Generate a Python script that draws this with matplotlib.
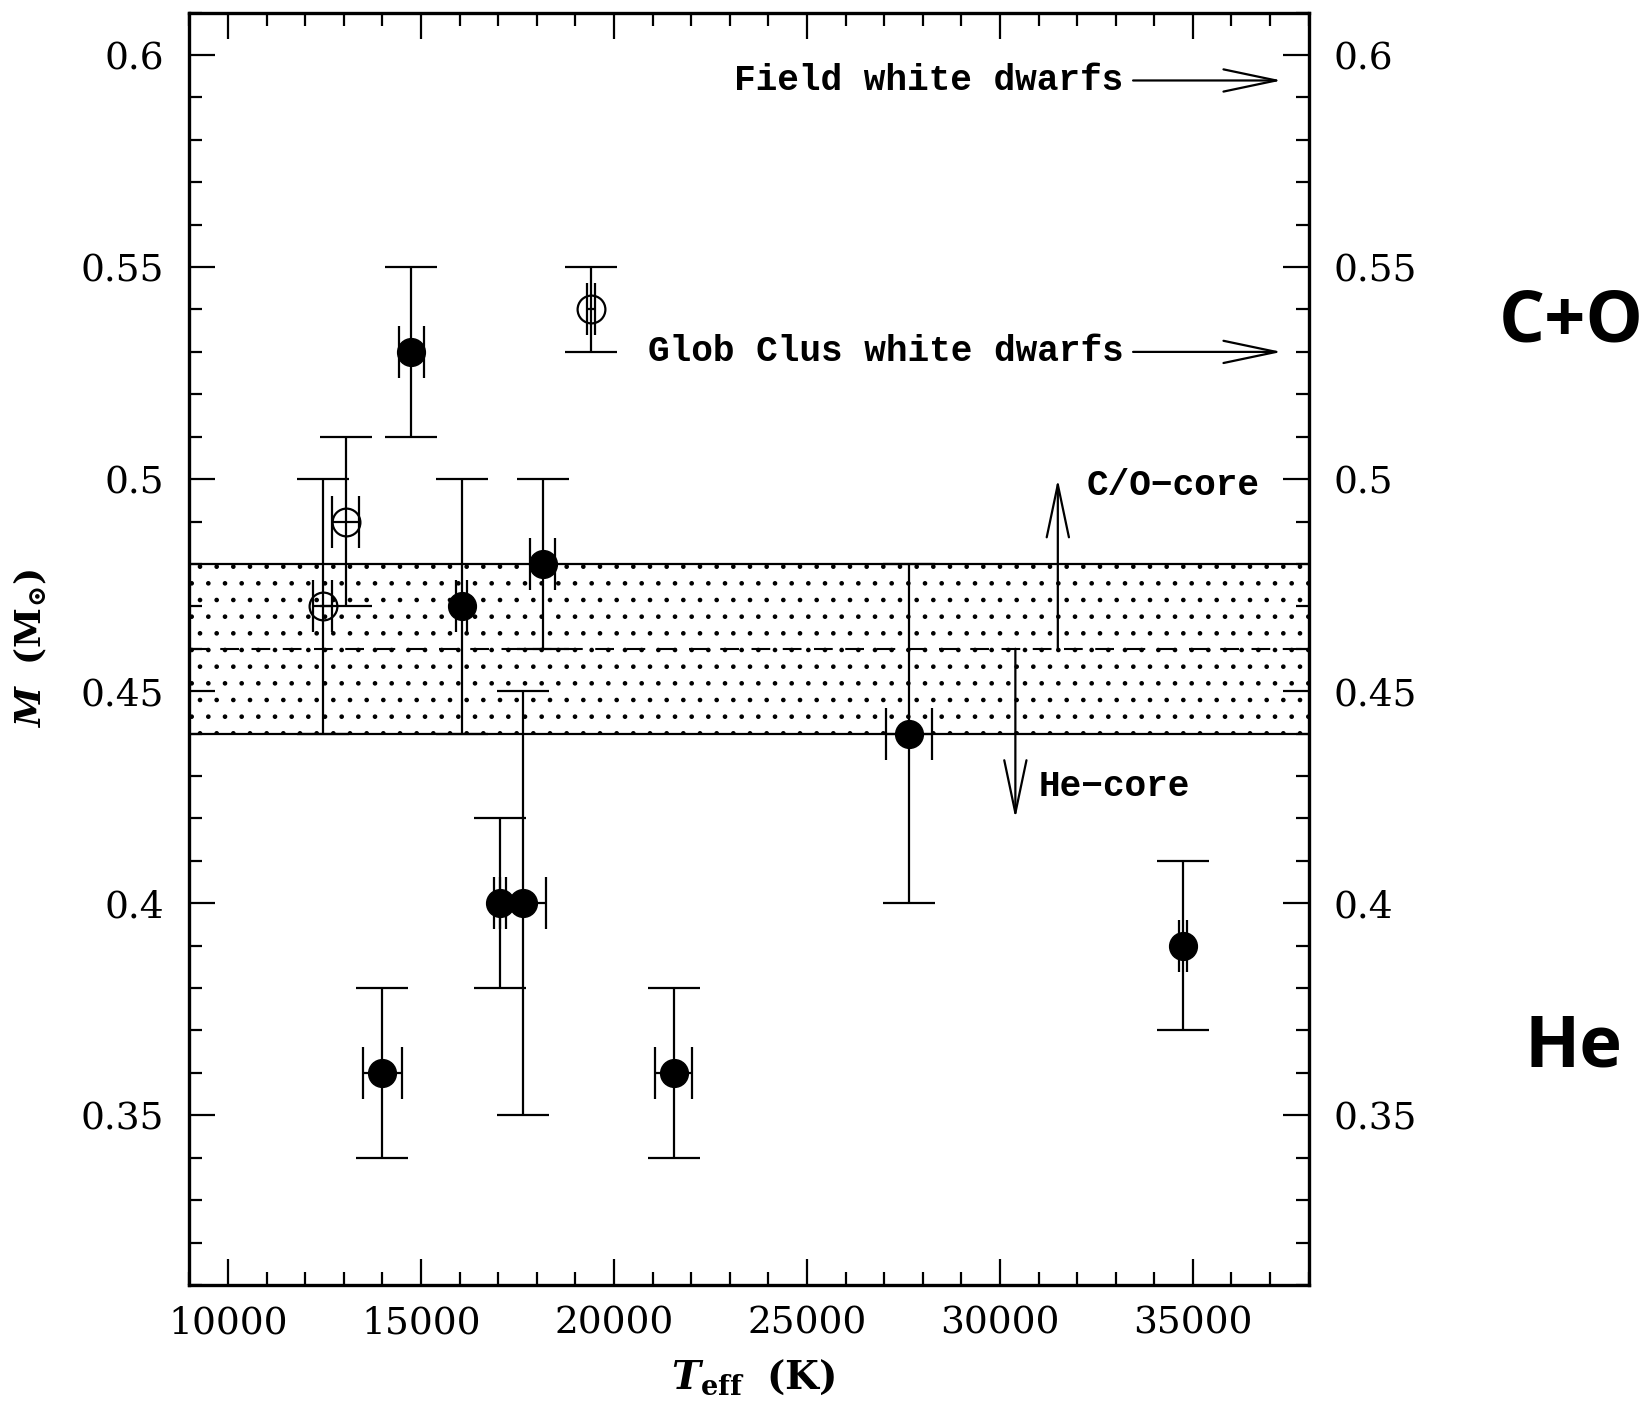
import matplotlib
matplotlib.use('Agg')
import matplotlib.pyplot as plt
from matplotlib.ticker import MultipleLocator, FormatStrFormatter

plt.rcParams['mathtext.fontset'] = 'dejavuserif'
plt.rcParams['hatch.linewidth'] = 0.9

# filled points: Teff (K), mass (Msun), errors
teff_filled = [14750, 16050, 18150, 17050, 17650, 14000, 21550, 27650, 34750]
mass_filled = [0.53, 0.47, 0.48, 0.40, 0.40, 0.36, 0.36, 0.44, 0.39]
mass_err_filled = [0.02, 0.03, 0.02, 0.02, 0.05, 0.02, 0.02, 0.04, 0.02]
teff_err_filled = [320, 150, 330, 150, 600, 500, 480, 600, 100]

# open points
teff_open = [19400, 13050, 12450]
mass_open = [0.54, 0.49, 0.47]
mass_err_open = [0.01, 0.02, 0.03]
teff_err_open = [100, 350, 250]

# transition band and reference masses
band_lo, band_mid, band_hi = 0.44, 0.46, 0.48
field_wd_mass = 0.594
globclus_wd_mass = 0.53

fig = plt.figure(figsize=(16.42, 14.02), dpi=100)
ax = fig.add_axes([0.1154, 0.0835, 0.6816, 0.9075])
ax.set_xlim(9000, 38000)
ax.set_ylim(0.31, 0.61)

# dotted band between He-core and C/O-core
ax.axhspan(band_lo, band_hi, facecolor='none', edgecolor='black', hatch='.', lw=0, zorder=1)
ax.axhline(band_lo, color='black', lw=1.6, zorder=2)
ax.axhline(band_hi, color='black', lw=1.6, zorder=2)
ax.axhline(band_mid, color='black', lw=1.5, ls=(0, (9, 6)), zorder=2)

ax.errorbar(teff_filled, mass_filled, xerr=teff_err_filled, yerr=mass_err_filled,
            fmt='o', color='black', ms=20, capsize=19, elinewidth=1.6, capthick=1.6, zorder=4)
ax.errorbar(teff_open, mass_open, xerr=teff_err_open, yerr=mass_err_open,
            fmt='o', color='black', mfc='none', mec='black', mew=1.6, ms=20,
            capsize=19, elinewidth=1.6, capthick=1.6, zorder=4)

# arrows and labels
head = dict(arrowstyle='->,head_length=3.8,head_width=0.8', lw=1.6, color='black',
            mutation_scale=10, shrinkA=0, shrinkB=0)
label_font = dict(family='Liberation Mono', weight='bold', fontsize=26)

ax.annotate('', xy=(31500, 0.50), xytext=(31500, band_mid), arrowprops=head)
ax.annotate('', xy=(30400, 0.42), xytext=(30400, band_mid), arrowprops=head)
ax.text(32250, 0.4985, 'C/O\u2212core', ha='left', va='center', **label_font)
ax.text(31000, 0.4275, 'He\u2212core', ha='left', va='center', **label_font)

ax.annotate('', xy=(37300, field_wd_mass), xytext=(33450, field_wd_mass), arrowprops=head)
ax.text(33200, field_wd_mass, 'Field white dwarfs', ha='right', va='center', **label_font)
ax.annotate('', xy=(37300, globclus_wd_mass), xytext=(33450, globclus_wd_mass), arrowprops=head)
ax.text(33200, globclus_wd_mass, 'Glob Clus white dwarfs', ha='right', va='center', **label_font)

# ticks
ax.xaxis.set_major_locator(MultipleLocator(5000))
ax.xaxis.set_minor_locator(MultipleLocator(1000))
ax.yaxis.set_major_locator(MultipleLocator(0.05))
ax.yaxis.set_minor_locator(MultipleLocator(0.01))
ax.yaxis.set_major_formatter(FormatStrFormatter('%g'))
ax.tick_params(which='both', direction='in', top=True, right=True, labelright=True, width=1.6)
ax.tick_params(which='major', length=18.7)
ax.tick_params(which='minor', length=9.4)
ax.tick_params(axis='x', which='major', pad=15)
ax.tick_params(axis='y', which='major', pad=18)
ax.tick_params(labelsize=27)
for lab in ax.get_xticklabels() + ax.get_yticklabels():
    lab.set_family('DejaVu Serif')
for spine in ax.spines.values():
    spine.set_linewidth(2.4)

ax.text(0.504, -0.073, r'$\mathbfit{T}_{\mathbf{eff}}\ \ \mathbf{(K)}$', transform=ax.transAxes,
        ha='center', va='center', fontsize=28)
ax.text(-0.142, 0.5, r'$\mathbfit{M}\ \ \mathbf{(M_{\odot})}$', transform=ax.transAxes,
        ha='center', va='center', rotation=90, fontsize=26)

# core composition labels on the right
fig.text(0.957, 0.77, 'C+O', ha='center', va='center', family='Open Sans',
         weight='bold', fontsize=52)
fig.text(0.958, 0.253, 'He', ha='center', va='center', family='Open Sans',
         weight='bold', fontsize=52)

fig.savefig('out.png', dpi=100)
